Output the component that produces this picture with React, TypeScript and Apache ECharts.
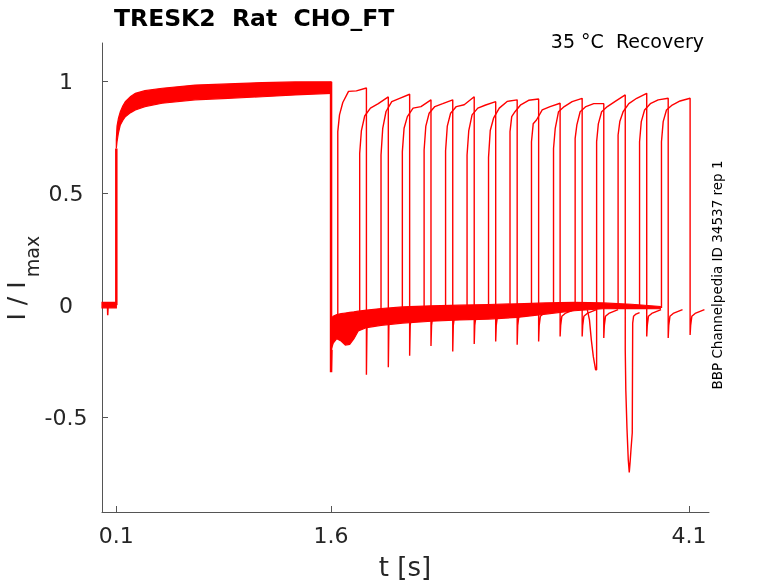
import { useEffect, useRef } from 'react';
import * as echarts from 'echarts';

const FONT = 'DejaVu Sans';
const RED = '#ff0000';
const INK = '#262626';

// conditioning pulse, all sweeps on top of each other (noisy band)
const condTime = [0.1, 0.105, 0.115, 0.128, 0.145, 0.163, 0.2, 0.233, 0.3, 0.42, 0.65, 0.88, 1.12, 1.35, 1.6];
const condUpper = [0.74, 0.8, 0.835, 0.864, 0.89, 0.909, 0.932, 0.946, 0.958, 0.969, 0.983, 0.988, 0.994, 0.997, 0.998];
const condLower = [0.7, 0.73, 0.77, 0.805, 0.825, 0.842, 0.86, 0.872, 0.887, 0.902, 0.917, 0.924, 0.931, 0.939, 0.946];

// holding level before the conditioning pulse
const holdTime = [0, 0.1];
const holdUpper = [0.012, 0.012];
const holdLower = [-0.012, -0.012];
const blipTime = [0.038, 0.04, 0.043];
const blipValue = [0, -0.045, 0];

// baseline between conditioning and test pulses (band)
const restTime = [1.6, 1.615, 1.64, 1.67, 1.7, 1.73, 1.76, 1.79, 1.85, 1.95, 2.1, 2.3, 2.5, 2.7, 2.9, 3.1, 3.3, 3.5, 3.7, 3.9];
const restUpper = [-0.06, -0.05, -0.042, -0.038, -0.035, -0.032, -0.03, -0.027, -0.022, -0.015, -0.008, -0.003, 0, 0.003, 0.006, 0.01, 0.012, 0.01, 0.004, -0.006];
const restLower = [-0.2, -0.17, -0.15, -0.16, -0.178, -0.175, -0.15, -0.115, -0.1, -0.09, -0.08, -0.072, -0.066, -0.062, -0.055, -0.04, -0.025, -0.016, -0.014, -0.016];

// test pulses
const onsets = [1.647, 1.8, 1.949, 2.098, 2.25, 2.4, 2.55, 2.7, 2.85, 3.0, 3.154, 3.305, 3.455, 3.605, 3.755, 3.908];
const pulseLen = 0.2;
const onsetBase = [-0.05, -0.04, -0.03, -0.03, -0.02, -0.02, -0.02, -0.015, -0.01, -0.01, -0.01, -0.01, -0.289, -0.01, -0.01, -0.013];
const riseDt = [0, 0.012, 0.035, 0.075, 0.13, 0.2];
const riseLevels = [
  [0.775, 0.85, 0.905, 0.955, 0.957, 0.97],
  [0.678, 0.78, 0.845, 0.88, 0.9, 0.93],
  [0.671, 0.79, 0.865, 0.909, 0.924, 0.942],
  [0.686, 0.79, 0.842, 0.88, 0.887, 0.917],
  [0.693, 0.8, 0.857, 0.887, 0.9, 0.917],
  [0.69, 0.8, 0.857, 0.887, 0.895, 0.931],
  [0.671, 0.78, 0.85, 0.88, 0.894, 0.909],
  [0.66, 0.78, 0.835, 0.88, 0.91, 0.917],
  [0.775, 0.842, 0.864, 0.895, 0.915, 0.921],
  [0.73, 0.81, 0.827, 0.872, 0.887, 0.902],
  [0.7, 0.79, 0.864, 0.887, 0.909, 0.924],
  [0.745, 0.805, 0.864, 0.887, 0.9, 0.9],
  [0.73, 0.81, 0.864, 0.887, 0.91, 0.939],
  [0.76, 0.82, 0.864, 0.9, 0.924, 0.946],
  [0.73, 0.82, 0.872, 0.9, 0.917, 0.924],
  [0.73, 0.82, 0.872, 0.894, 0.912, 0.924],
];
const offSpike = [-0.311, -0.277, -0.226, -0.182, -0.207, -0.174, -0.162, -0.177, -0.162, -0.14, -0.14, -0.147, -0.2, -0.14, -0.147, -0.133];
const tailDt = [0.004, 0.012, 0.035, 0.1];
const tailLevels = [-0.09, -0.05, -0.037, -0.02];

// sweep 13 artefacts
const dipBeforeTime = [3.39, 3.405, 3.418, 3.432, 3.448];
const dipBeforeValue = [-0.02, -0.066, -0.155, -0.23, -0.289];
const dipAfterTime = [3.659, 3.667, 3.676, 3.683, 3.689, 3.695, 3.704, 3.707, 3.713, 3.73, 3.755];
const dipAfterValue = [-0.38, -0.55, -0.69, -0.747, -0.7, -0.646, -0.57, -0.08, -0.05, -0.04, -0.033];

const xTicks = [0.1, 1.6, 4.1];
const yTicks = [-0.5, 0, 0.5, 1];

function buildSweep(k: number): number[][] {
  const on = onsets[k];
  const off = on + pulseLen;
  const pts: number[][] = [];
  if (k === 12) dipBeforeTime.forEach((t, i) => pts.push([t, dipBeforeValue[i]]));
  pts.push([on, onsetBase[k]]);
  riseDt.forEach((d, i) => pts.push([on + d, riseLevels[k][i]]));
  pts.push([off, offSpike[k]]);
  if (k === 12) {
    dipAfterTime.forEach((t, i) => pts.push([t, dipAfterValue[i]]));
  } else {
    tailDt.forEach((d, i) => pts.push([off + d, tailLevels[i]]));
  }
  return pts;
}

function band(times: number[], ups: number[], lows: number[]): any {
  return {
    type: 'custom',
    silent: true,
    data: times.map((t, i) => [t, ups[i], lows[i]]),
    encode: { x: 0, y: [1, 2] },
    renderItem: (params: any, api: any) => {
      if (params.dataIndex !== 0) return null;
      const top = times.map((t, i) => api.coord([t, ups[i]]));
      const bottom = times.map((t, i) => api.coord([t, lows[i]])).reverse();
      return {
        type: 'polygon',
        shape: { points: top.concat(bottom) },
        style: { fill: RED, stroke: RED, lineWidth: 1.2 },
      };
    },
  };
}

function line(data: number[][], width: number): any {
  return {
    type: 'line',
    silent: true,
    showSymbol: false,
    data,
    lineStyle: { color: RED, width },
  };
}

const rotatedText = (x: number, y: number, text: string, size: number, fill = '#000') => ({
  type: 'text',
  x,
  y,
  rotation: Math.PI / 2,
  style: { text, x: 0, y: 0, align: 'center', verticalAlign: 'middle', font: `${size}px ${FONT}`, fill },
});

export default function App() {
  const chartRef = useRef<HTMLDivElement>(null);

  useEffect(() => {
    if (!chartRef.current) return;
    const chart = echarts.init(chartRef.current, undefined, { renderer: 'svg' });

    const axisCommon = {
      type: 'value' as const,
      axisLine: { show: true, onZero: false, lineStyle: { color: '#555', width: 1 } },
      splitLine: { show: false },
    };

    const option: any = {
      animation: false,
      grid: { left: 102, right: 69, top: 43, bottom: 71, outerBoundsMode: 'none' },
      xAxis: {
        ...axisCommon,
        min: 0,
        max: 4.24,
        axisTick: { show: true, inside: true, length: 6, customValues: xTicks, lineStyle: { color: '#555' } },
        axisLabel: { customValues: xTicks, fontSize: 22, fontFamily: FONT, color: INK, margin: 12 },
      },
      yAxis: {
        ...axisCommon,
        min: -0.924,
        max: 1.171,
        axisTick: { show: true, inside: true, length: 6, customValues: yTicks, lineStyle: { color: '#555' } },
        axisLabel: { customValues: yTicks, fontSize: 22, fontFamily: FONT, color: INK, margin: 36, align: 'center' },
      },
      graphic: [
        {
          type: 'text',
          x: 114,
          y: 18,
          style: { text: 'TRESK2  Rat  CHO_FT', x: 0, y: 0, align: 'left', verticalAlign: 'middle', font: `bold 23.5px ${FONT}`, fill: '#000' },
        },
        {
          type: 'text',
          x: 704,
          y: 41,
          style: { text: '35 °C  Recovery', x: 0, y: 0, align: 'right', verticalAlign: 'middle', font: `19px ${FONT}`, fill: '#000' },
        },
        {
          type: 'text',
          x: 405,
          y: 567,
          style: { text: 't [s]', x: 0, y: 0, align: 'center', verticalAlign: 'middle', font: `26px ${FONT}`, fill: INK },
        },
        rotatedText(16, 301, 'I / I', 25, INK),
        rotatedText(31.5, 256.5, 'max', 19, INK),
        rotatedText(717, 275, 'BBP Channelpedia ID 34537 rep 1', 13.5),
      ],
      series: [
        band(holdTime, holdUpper, holdLower),
        band(condTime, condUpper, condLower),
        band(restTime, restUpper, restLower),
        line(blipTime.map((t, i) => [t, blipValue[i]]), 1.5),
        line([[0.1, 0], [0.1, condLower[0]]], 2.5),
        line([[1.6, condUpper[condUpper.length - 1]], [1.6, -0.3], [1.603, restLower[0]]], 2.5),
        ...onsets.map((_, k) => line(buildSweep(k), 1.4)),
      ],
    };

    chart.setOption(option);
    return () => chart.dispose();
  }, []);

  return <div ref={chartRef} style={{ position: 'fixed', left: 0, top: 0, width: 778, height: 583 }} />;
}
